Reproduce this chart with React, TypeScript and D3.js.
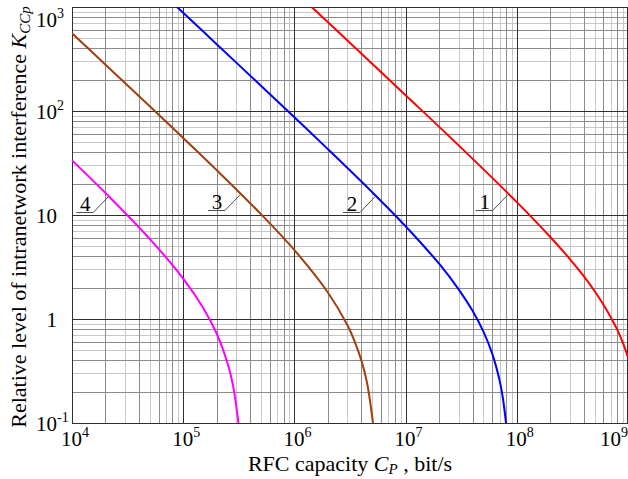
import React from 'react';
import * as d3 from 'd3';

const W = 628;
const H = 479;
const left = 72;
const right = 628;
const top = 7;
const bottom = 423;

// RFC capacity C_P (bit/s) and K_CCp
const cap1 = [1.43e6, 3e6, 1e7, 3e7, 1e8, 2e8, 3e8, 4e8, 5e8, 6e8, 7e8, 8e8, 9e8, 1e9];
const kcc1 = [1000, 476, 142, 46.7, 13.3, 6.15, 3.77, 2.58, 1.86, 1.38, 1.04, 0.79, 0.59, 0.43];

const cap2 = [8.8e4, 2e5, 5e5, 1e6, 2e6, 5e6, 1e7, 2e7, 3e7, 4e7, 5e7, 6e7, 7e7, 7.5e7, 8e7];
const kcc2 = [1000, 439, 175, 87, 43, 16.6, 7.8, 3.4, 1.93, 1.2, 0.76, 0.467, 0.257, 0.173, 0.1];

const cap3 = [1e4, 2e4, 5e4, 1e5, 2e5, 5e5, 1e6, 2e6, 3e6, 3.5e6, 4e6, 4.5e6, 5.09e6];
const kcc3 = [559, 279, 111, 55, 27, 10.2, 4.6, 1.8, 0.87, 0.6, 0.4, 0.244, 0.1];

const cap4 = [1e4, 2e4, 5e4, 1e5, 1.5e5, 2e5, 2.5e5, 2.8e5, 3.14e5];
const kcc4 = [33.5, 16.3, 5.9, 2.45, 1.3, 0.725, 0.38, 0.232, 0.1];

const curveNames = ['1', '2', '3', '4'];
const curveColors = ['#ff0000', '#0000ff', '#a0400c', '#ff00ff'];
const labelCap = [8.28e7, 5.31e6, 3.24e5, 2.12e4];
const labelKcc = [15.6, 15.0, 15.6, 15.0];

const xTickValues = [1e4, 1e5, 1e6, 1e7, 1e8, 1e9];
const xTickExp = ['4', '5', '6', '7', '8', '9'];
const yTickValues = [1000, 100, 10, 1, 0.1];
const yTickBase = ['10', '10', '10', '1', '10'];
const yTickExp = ['3', '2', '', '', '-1'];

const font = '"Liberation Serif", "Times New Roman", serif';

export default function App() {
  const x = d3.scaleLog().domain([1e4, 1e9]).range([left, right]);
  const y = d3.scaleLog().domain([0.1, 1000]).range([bottom, top]);

  const series = [
    cap1.map((c, i) => [c, kcc1[i]]),
    cap2.map((c, i) => [c, kcc2[i]]),
    cap3.map((c, i) => [c, kcc3[i]]),
    cap4.map((c, i) => [c, kcc4[i]]),
  ];

  const line = d3
    .line<number[]>()
    .x((d) => x(d[0]))
    .y((d) => y(d[1]))
    .curve(d3.curveCatmullRom.alpha(0.5));

  // minor grid lines: even multiples darker, odd lighter
  const xMinor: { v: number; m: number }[] = [];
  for (let e = 4; e < 9; e++) for (let m = 2; m <= 9; m++) xMinor.push({ v: m * 10 ** e, m });
  const yMinor: { v: number; m: number }[] = [];
  for (let e = -1; e < 3; e++) for (let m = 2; m <= 9; m++) yMinor.push({ v: m * 10 ** e, m });
  const minorColor = (m: number) => (m % 2 === 0 ? '#8c8c8c' : '#c8c8c8');

  const px = (v: number) => Math.round(v) + 0.5;

  return (
    <svg
      width={W}
      height={H}
      style={{ position: 'absolute', left: 0, top: 0, background: '#fff' }}
      fontFamily={font}
    >
      <defs>
        <clipPath id="plot">
          <rect x={left} y={top} width={right - left} height={bottom - top} />
        </clipPath>
      </defs>

      {/* light minor grid first, then darker */}
      {[1, 0].map((odd) => (
        <g key={odd} shapeRendering="crispEdges">
          {xMinor
            .filter((d) => d.m % 2 === odd)
            .map((d, i) => (
              <line key={'x' + i} x1={px(x(d.v))} x2={px(x(d.v))} y1={top} y2={bottom} stroke={minorColor(d.m)} />
            ))}
          {yMinor
            .filter((d) => d.m % 2 === odd)
            .map((d, i) => (
              <line key={'y' + i} y1={px(y(d.v))} y2={px(y(d.v))} x1={left} x2={right} stroke={minorColor(d.m)} />
            ))}
        </g>
      ))}

      <g shapeRendering="crispEdges" stroke="#303030">
        {xTickValues.map((v) => (
          <line key={v} x1={Math.min(px(x(v)), right - 0.5)} x2={Math.min(px(x(v)), right - 0.5)} y1={top} y2={bottom} />
        ))}
        {yTickValues.map((v) => (
          <line key={v} y1={px(y(v))} y2={px(y(v))} x1={left} x2={right} />
        ))}
      </g>

      <g clipPath="url(#plot)" fill="none" strokeWidth={2}>
        {series.map((s, i) => (
          <path key={i} d={line(s) || ''} stroke={curveColors[i]} />
        ))}
      </g>

      {/* curve labels with leaders */}
      {labelCap.map((c, i) => {
        const cx = x(c);
        const cy = y(labelKcc[i]);
        const uy = Math.round(cy + 15) + 0.5;
        return (
          <g key={i}>
            <polyline
              points={`${cx},${cy} ${cx - 15},${uy} ${cx - 32},${uy}`}
              fill="none"
              stroke="#505050"
              strokeWidth={1}
            />
            <text x={cx - 23} y={uy - 2} textAnchor="middle" fontSize={21} fill="#000">
              {curveNames[i]}
            </text>
          </g>
        );
      })}

      {/* x tick labels */}
      {xTickValues.map((v, i) => (
        <text key={v} x={Math.min(x(v) + 3, 614)} y={446} textAnchor="middle" fontSize={21} fill="#000">
          <tspan>10</tspan>
          <tspan fontSize={14} dy={-9}>
            {xTickExp[i]}
          </tspan>
        </text>
      ))}

      {/* y tick labels */}
      {yTickValues.map((v, i) => {
        const ty = Math.max(y(v), 19) + 7.5;
        return (
          <g key={v} fill="#000">
            <text x={57} y={ty} textAnchor="end" fontSize={21}>
              {yTickBase[i]}
            </text>
            {yTickExp[i] && (
              <text x={57} y={ty - 9} textAnchor="start" fontSize={14}>
                {yTickExp[i]}
              </text>
            )}
          </g>
        );
      })}

      {/* axis titles */}
      <text x={350} y={471} textAnchor="middle" fontSize={22} fill="#000">
        RFC capacity <tspan fontStyle="italic">C</tspan>
        <tspan fontStyle="italic" fontSize={15} dy={3}>
          P
        </tspan>
        <tspan dy={-3}> , bit/s</tspan>
      </text>
      <text
        transform={`translate(26,217) rotate(-90)`}
        textAnchor="middle"
        fontSize={22}
        fill="#000"
      >
        Relative level of intranetwork interference <tspan fontStyle="italic">K</tspan>
        <tspan fontStyle="italic" fontSize={15} dy={4}>
          CCp
        </tspan>
      </text>
    </svg>
  );
}
